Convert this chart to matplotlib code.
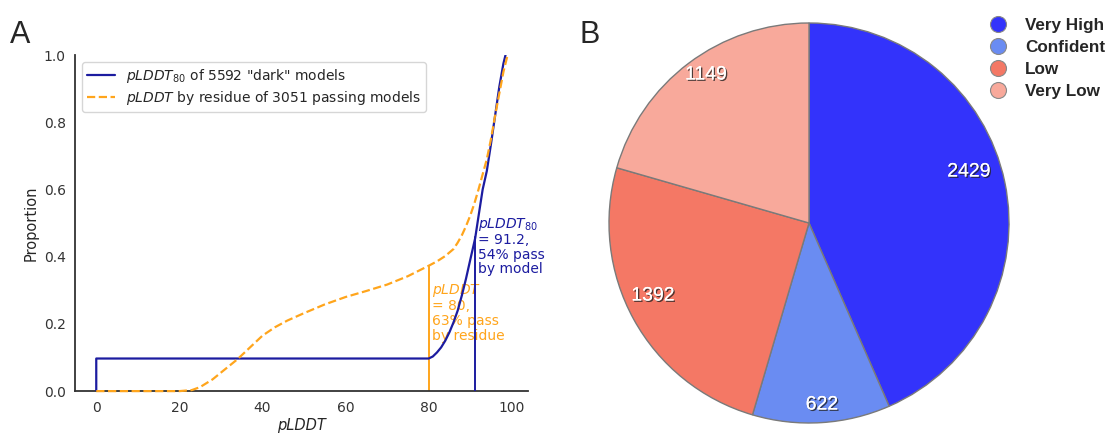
import numpy as np
import matplotlib.pyplot as plt
import matplotlib.patheffects as pe
from matplotlib.lines import Line2D
import seaborn as sns

sns.set_style('white')
plt.rcParams['font.family'] = ['DejaVu Sans']

# panel A: cumulative curves
dark_x = [0, 0, 80, 81, 82, 83, 84, 85, 86, 87, 88, 89, 90, 91.2, 92, 93, 94, 95, 96,
          97, 98, 98.5]
dark_y = [0, 0.097, 0.097, 0.103, 0.115, 0.13, 0.15, 0.175, 0.205, 0.24, 0.285,
          0.335, 0.39, 0.455, 0.52, 0.6, 0.655, 0.735, 0.82, 0.905, 0.975, 1.0]
res_x = [0, 5, 10, 15, 20, 23, 25, 28, 31, 34, 37, 40, 43, 46, 50, 55, 60, 65, 70,
         75, 80, 82, 84, 86, 87, 88, 89, 90, 91, 92, 93, 94, 95, 96, 97, 98, 99]
res_y = [0, 0, 0, 0, 0, 0.003, 0.012, 0.035, 0.065, 0.095, 0.13, 0.165, 0.19, 0.21,
         0.232, 0.258, 0.28, 0.298, 0.317, 0.342, 0.373, 0.386, 0.402, 0.423, 0.442,
         0.464, 0.491, 0.522, 0.558, 0.6, 0.645, 0.69, 0.75, 0.82, 0.885, 0.95, 1.0]
cut_model, cut_model_y = 91.2, 0.46
cut_res, cut_res_y = 80, 0.373

# panel B
cats = ['Very High', 'Confident', 'Low', 'Very Low']
counts = [2429, 622, 1392, 1149]
pie_colors = ['#3333fb', '#6a8cf2', '#f47865', '#f8a99b']
# where the count labels sit, in pie radius units
label_pos = [(0.80, 0.255), (0.065, -0.91), (-0.78, -0.365), (-0.515, 0.74)]

blue = '#1c1ca0'
orange = '#ffa51c'

fig = plt.figure(figsize=(11.1, 4.37), dpi=100)

ax = fig.add_axes([0.068, 0.105, 0.408, 0.769])
ax.plot(dark_x, dark_y, color=blue, lw=1.6, zorder=3,
        label=r'$pLDDT_{80}$ of 5592 "dark" models')
ax.plot(res_x, res_y, color=orange, lw=1.6, ls='--', zorder=3, clip_on=False,
        label=r'$pLDDT$ by residue of 3051 passing models')
ax.plot([cut_model, cut_model], [0, cut_model_y], color=blue, lw=1.4, zorder=3)
ax.plot([cut_res, cut_res], [0, cut_res_y], color=orange, lw=1.4, zorder=2)
ax.text(cut_model + 0.7, 0.522, '$pLDDT_{80}$\n= 91.2,\n54% pass\nby model',
        color=blue, fontsize=10, va='top', ha='left', linespacing=1.05)
ax.text(cut_res + 0.7, 0.325, '$pLDDT$\n= 80,\n63% pass\nby residue',
        color=orange, fontsize=10, va='top', ha='left', linespacing=1.05, zorder=1)
ax.set_xlim(-5, 104)
ax.set_ylim(0, 1.0)
ax.set_xticks([0, 20, 40, 60, 80, 100])
ax.set_yticks([0, 0.2, 0.4, 0.6, 0.8, 1.0])
ax.tick_params(labelsize=10, colors='#333333')
ax.set_xlabel('pLDDT', fontsize=10.5, style='italic', labelpad=2)
ax.set_ylabel('Proportion', fontsize=10.5)
for s in ['top', 'right']:
    ax.spines[s].set_visible(False)
for s in ['left', 'bottom']:
    ax.spines[s].set_color('#333333')
    ax.spines[s].set_linewidth(1.3)
ax.legend(loc='upper left', fontsize=10, frameon=True, borderaxespad=0.5,
          labelspacing=0.3, borderpad=0.35)

fig.text(0.009, 0.955, 'A', fontsize=22, family='Liberation Sans', va='top')
fig.text(0.522, 0.955, 'B', fontsize=22, family='Liberation Sans', va='top')

ax2 = fig.add_axes([604 / 1110, 9 / 437, 410 / 1110, 410 / 437])
wedges, _, autotexts = ax2.pie(
    counts, colors=pie_colors, startangle=90, counterclock=False,
    autopct=lambda p: '%d' % round(p * sum(counts) / 100),
    wedgeprops=dict(edgecolor='#7a7a7a', linewidth=1.0))
for t, xy in zip(autotexts, label_pos):
    t.set_position(xy)
    t.set_color('white')
    t.set_fontsize(14)
    t.set_family('Liberation Sans')
    t.set_path_effects([pe.withSimplePatchShadow(offset=(1, -1), shadow_rgbFace='#222222', alpha=0.8),
                        pe.Normal()])
ax2.set_xlim(-1.025, 1.025)
ax2.set_ylim(-1.025, 1.025)
ax2.set_aspect('equal')

handles = [Line2D([], [], marker='o', ls='', markersize=11.5, markerfacecolor=c,
                  markeredgecolor='#888888', markeredgewidth=0.8) for c in pie_colors]
fig.legend(handles, cats, loc='upper left', bbox_to_anchor=(0.881, 0.982), frameon=False,
           prop=dict(family='Liberation Sans', weight='bold', size=12.3),
           labelspacing=0.4, handletextpad=0.95, borderaxespad=0.2, handlelength=1.2)

fig.savefig('out.png', dpi=100)
